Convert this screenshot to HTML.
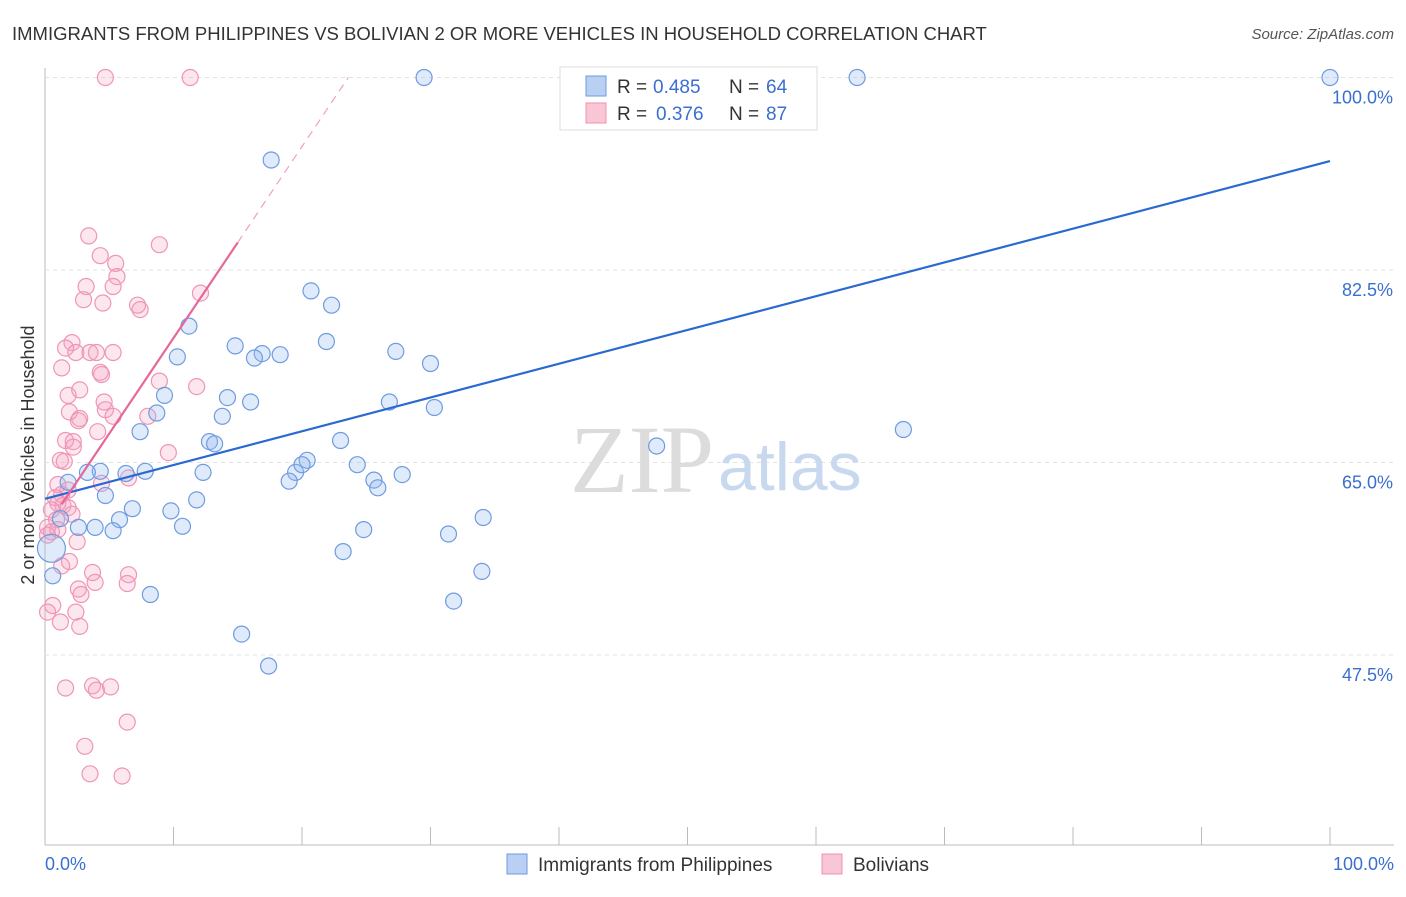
<!DOCTYPE html>
<html><head><meta charset="utf-8"><style>
body{margin:0;background:#fff;font-family:"Liberation Sans",sans-serif;}
</style></head><body>
<svg width="1406" height="892" xmlns="http://www.w3.org/2000/svg" font-family="Liberation Sans, sans-serif">
<text x="12" y="40" font-size="18.5" fill="#333">IMMIGRANTS FROM PHILIPPINES VS BOLIVIAN 2 OR MORE VEHICLES IN HOUSEHOLD CORRELATION CHART</text>
<text x="1394" y="39" font-size="15" fill="#555" font-style="italic" text-anchor="end">Source: ZipAtlas.com</text>
<g id="grid"></g>
<text x="714" y="492" font-size="96" fill="#dcdcdc" text-anchor="end" style="font-family:'Liberation Serif',serif">ZIP</text>
<text x="718" y="490" font-size="68" fill="#c8d8ee">atlas</text>
<g id="pts"></g>
<g id="lines"></g>
<text x="34" y="455" font-size="18" fill="#333" text-anchor="middle" transform="rotate(-90 34 455)">2 or more Vehicles in Household</text>
<text x="45" y="870" font-size="18" fill="#3a6fd0">0.0%</text>
<text x="1394" y="870" font-size="18" fill="#3a6fd0" text-anchor="end">100.0%</text>
<g>
<rect x="560" y="67" width="257" height="63" fill="#fff" stroke="#ddd"/>
<rect x="586" y="76" width="20" height="20" fill="#b9d0f3" stroke="#6a9ae0"/>
<rect x="586" y="103" width="20" height="20" fill="#f9c6d6" stroke="#f090b0"/>
<text x="617" y="93" font-size="19" fill="#333">R =</text>
<text x="653" y="93" font-size="19" fill="#3a6fd0">0.485</text>
<text x="729" y="93" font-size="19" fill="#333">N =</text>
<text x="766" y="93" font-size="19" fill="#3a6fd0">64</text>
<text x="617" y="120" font-size="19" fill="#333">R =</text>
<text x="656" y="120" font-size="19" fill="#3a6fd0">0.376</text>
<text x="729" y="120" font-size="19" fill="#333">N =</text>
<text x="766" y="120" font-size="19" fill="#3a6fd0">87</text>
</g>
<g>
<rect x="507" y="854" width="20" height="20" fill="#b9d0f3" stroke="#6a9ae0"/>
<text x="538" y="871" font-size="19" fill="#333">Immigrants from Philippines</text>
<rect x="822" y="854" width="20" height="20" fill="#f9c6d6" stroke="#f090b0"/>
<text x="853" y="871" font-size="19" fill="#333">Bolivians</text>
</g>
</svg>
<script>
const yTicks=[47.5,65.0,82.5,100.0];
const xTicks=[0,10,20,30,40,50,60,70,80,90,100];
const blueX=[29.5,63.2,100,17.6,20.7,22.3,11.2,21.9,14.8,16.9,18.3,16.3,10.3,27.3,30.0,9.3,14.2,16.0,26.8,30.3,8.7,13.8,7.4,12.8,13.2,23.0,47.6,66.8,20.4,24.3,19.5,20.0,12.3,25.6,27.8,19.0,25.9,6.3,7.8,4.3,3.3,1.8,4.7,11.8,6.8,9.8,5.8,10.7,2.6,3.9,5.3,24.8,31.4,34.1,23.2,34.0,0.5,0.6,8.2,31.8,15.3,17.4,1.2];
const blueY=[100,100,100,92.5,80.6,79.3,77.4,76.0,75.6,74.9,74.8,74.5,74.6,75.1,74.0,71.1,70.9,70.5,70.5,70.0,69.5,69.2,67.8,66.9,66.7,67.0,66.5,68.0,65.2,64.8,64.1,64.8,64.1,63.4,63.9,63.3,62.7,64.0,64.2,64.2,64.1,63.2,62.0,61.6,60.8,60.6,59.8,59.2,59.1,59.1,58.8,58.9,58.5,60.0,56.9,55.1,57.2,54.7,53.0,52.4,49.4,46.5,59.9];
const pinkX=[4.7,11.3,3.4,8.9,4.3,5.5,5.6,3.2,5.3,3.0,4.5,7.2,7.4,12.1,2.1,1.6,2.4,3.5,4.0,5.3,1.3,4.4,8.9,11.8,2.7,1.8,4.6,1.9,4.7,5.3,2.7,8.0,2.6,4.1,1.6,2.2,2.2,9.6,1.2,1.5,6.5,4.4,1.0,1.8,1.3,0.8,1.0,1.4,1.8,0.5,2.1,0.9,0.2,1.0,0.5,0.2,2.5,1.9,1.3,3.7,6.5,3.9,6.4,2.6,2.8,0.6,0.2,2.4,1.2,2.7,1.6,3.7,5.1,4.0,6.4,3.1,3.5,6.0,4.3];
const pinkY=[100,100,85.6,84.8,83.8,83.1,81.9,81.0,81.0,79.8,79.5,79.3,78.9,80.4,75.9,75.4,75.0,75.0,75.0,75.0,73.6,73.0,72.4,71.9,71.6,71.1,70.5,69.6,69.8,69.2,69.0,69.2,68.8,67.8,67.0,66.9,66.4,65.9,65.2,65.1,63.6,63.1,63.0,62.5,62.1,61.8,61.3,61.1,60.9,60.7,60.3,59.8,59.1,58.9,58.7,58.4,57.8,56.0,55.6,55.0,54.8,54.1,54.0,53.5,53.0,52.0,51.4,51.4,50.5,50.1,44.5,44.7,44.6,44.3,41.4,39.2,36.7,36.5,73.2];
const blueTrend=[[0,61.7],[100,92.4]];
const pinkTrendSolid=[[1.3,61.2],[15,85.0]];
const pinkTrendDash=[[15,85.0],[23.6,100]];
const NS="http://www.w3.org/2000/svg";
const sx=v=>45+v*12.85, sy=v=>77.5+(100-v)*11;
function mk(tag,attrs,parent){const e=document.createElementNS(NS,tag);for(const k in attrs)e.setAttribute(k,attrs[k]);parent.appendChild(e);return e;}
const grid=document.getElementById('grid');
const ax=mk('line',{x1:45,y1:68,x2:45,y2:845,stroke:'#bbb'},grid);


const bx=mk('line',{x1:45,y1:845,x2:1394,y2:845,stroke:'#bbb'},grid);


yTicks.forEach(t=>{
 const l=mk('line',{x1:45,y1:sy(t),x2:1394,y2:sy(t),stroke:'#e2e2e2','stroke-dasharray':'4,4'},grid);
 
 
 const tx=mk('text',{x:1393,y:sy(t)+26,'font-size':18,fill:'#3a6fd0','text-anchor':'end'},grid);
 tx.textContent=t.toFixed(1)+'%';
 
 
});
xTicks.forEach(t=>{
 const l=mk('line',{x1:sx(t),y1:827,x2:sx(t),y2:845,stroke:'#bbb'},grid);
 
 
});
const pts=document.getElementById('pts');
pinkX.forEach((x,i)=>{
 const c=mk('circle',{cx:sx(x),cy:sy(pinkY[i]),r:8,fill:'rgba(245,160,190,0.25)',stroke:'#f095b5','stroke-width':1.2},pts);
 
 
});
blueX.forEach((x,i)=>{
 const c=mk('circle',{cx:sx(x),cy:sy(blueY[i]),r:(i==56?14:8),fill:'rgba(150,185,240,0.3)',stroke:'#6f9be0','stroke-width':1.2},pts);
 
 
});
const lines=document.getElementById('lines');
function ln(p,st,extra,name){const l=mk('line',Object.assign({x1:sx(p[0][0]),y1:sy(p[0][1]),x2:sx(p[1][0]),y2:sy(p[1][1]),stroke:st},extra),lines);
 
 }
ln(blueTrend,'#2a6ad0',{'stroke-width':2.2},'philippines-trendline');
ln(pinkTrendSolid,'#e8679a',{'stroke-width':2.2},'bolivian-trendline');
ln(pinkTrendDash,'#f0a0bc',{'stroke-width':1.2,'stroke-dasharray':'8,6'},'bolivian-trendline-extension');
</script>
</body></html>
